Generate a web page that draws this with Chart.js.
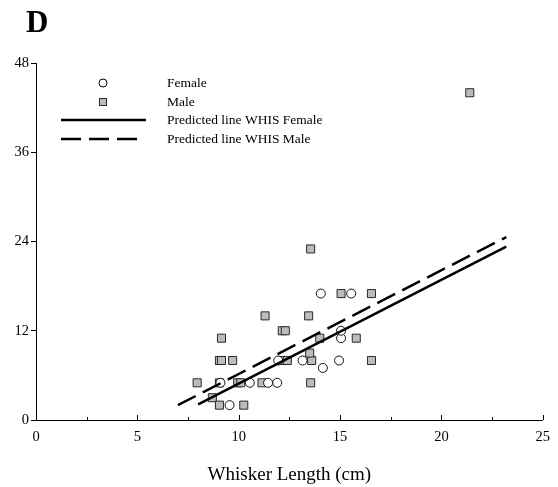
<!DOCTYPE html>
<html>
<head>
<meta charset="utf-8">
<script src="https://cdn.jsdelivr.net/npm/chart.js@4/dist/chart.umd.min.js"></script>
<style>
  html, body { margin: 0; padding: 0; background: #fff; }
  #wrap { width: 558px; height: 487px; }
</style>
</head>
<body>
<div id="wrap"><canvas id="graph"></canvas></div>
<script>
// whisker length (cm) vs. response, by sex
const femaleX = [9.1, 9.55, 10.55, 11.45, 11.9, 11.95, 13.15, 14.15, 14.95, 15.05, 15.05, 14.05, 15.55];
const femaleY = [5, 2, 5, 5, 5, 8, 8, 7, 8, 11, 12, 17, 17];

const maleX = [7.95, 8.7, 9.05, 10.25, 9.05, 9.95, 10.1, 11.15, 13.55, 9.05, 9.15, 9.7, 12.15, 12.4,
  13.6, 16.55, 13.5, 9.15, 14.0, 15.8, 12.15, 12.3, 11.3, 13.45, 13.55, 15.05, 16.55, 21.4];
const maleY = [5, 3, 2, 2, 5, 5, 5, 5, 5, 8, 8, 8, 8, 8,
  8, 8, 9, 11, 11, 11, 12, 12, 14, 14, 23, 17, 17, 44];

// predicted lines (end points)
const femaleLineX = [8.0, 23.2];
const femaleLineY = [2.1, 23.3];
const maleLineX = [7.0, 23.2];
const maleLineY = [2.0, 24.6];

const xTicks = [0, 5, 10, 15, 20, 25];
const xMinorTicks = [2.5, 7.5, 12.5, 17.5, 22.5];
const yTicks = [0, 12, 24, 36, 48];

const legendLabels = ['Female', 'Male', 'Predicted line WHIS Female', 'Predicted line WHIS Male'];

const SERIF = '"Liberation Serif", "DejaVu Serif", serif';
const toPoints = (xs, ys) => xs.map((x, i) => ({ x: x, y: ys[i] }));

const SQUARE_FILL = '#bcbcbc';
const SQUARE_EDGE = '#2a2a2a';
const DASH = [20, 8];

// panel letter, inward x ticks, legend
const extras = {
  id: 'extras',
  afterDraw(chart) {
    const c = chart.ctx;
    const xs = chart.scales.x;
    const area = chart.chartArea;
    c.save();

    c.fillStyle = '#000';
    c.font = 'bold 31px ' + SERIF;
    c.textBaseline = 'alphabetic';
    c.fillText('D', 26, 32);

    c.strokeStyle = '#000';
    c.lineWidth = 1;
    c.beginPath();
    xTicks.forEach(v => {
      const px = Math.round(xs.getPixelForValue(v)) + 0.5;
      c.moveTo(px, area.bottom);
      c.lineTo(px, area.bottom - 5);
    });
    xMinorTicks.forEach(v => {
      const px = Math.round(xs.getPixelForValue(v)) + 0.5;
      c.moveTo(px, area.bottom);
      c.lineTo(px, area.bottom - 3);
    });
    c.stroke();

    // legend
    const rowY = [83, 102, 120, 139];
    c.font = '13.5px ' + SERIF;
    c.textBaseline = 'middle';
    legendLabels.forEach((t, i) => c.fillText(t, 167, rowY[i]));

    c.lineWidth = 1;
    c.fillStyle = '#fff';
    c.beginPath();
    c.arc(103, rowY[0], 4, 0, Math.PI * 2);
    c.fill();
    c.stroke();

    c.fillStyle = SQUARE_FILL;
    c.strokeStyle = SQUARE_EDGE;
    c.fillRect(99, rowY[1] - 4, 8, 8);
    c.strokeRect(99.5, rowY[1] - 3.5, 7, 7);

    c.strokeStyle = '#000';
    c.lineWidth = 2.5;
    c.beginPath();
    c.moveTo(61, rowY[2]);
    c.lineTo(146, rowY[2]);
    c.stroke();
    c.setLineDash(DASH);
    c.beginPath();
    c.moveTo(61, rowY[3]);
    c.lineTo(137, rowY[3]);
    c.stroke();

    c.restore();
  }
};

new Chart(document.getElementById('graph'), {
  type: 'scatter',
  data: {
    datasets: [
      {
        label: legendLabels[0],
        data: toPoints(femaleX, femaleY),
        pointStyle: 'circle',
        pointRadius: 4.5,
        pointBackgroundColor: '#fff',
        pointBorderColor: '#111',
        pointBorderWidth: 1,
        order: 1
      },
      {
        label: legendLabels[1],
        data: toPoints(maleX, maleY),
        pointStyle: 'rect',
        pointRadius: 5.7,
        pointBackgroundColor: SQUARE_FILL,
        pointBorderColor: SQUARE_EDGE,
        pointBorderWidth: 1,
        order: 1
      },
      {
        type: 'line',
        label: legendLabels[2],
        data: toPoints(femaleLineX, femaleLineY),
        borderColor: '#000',
        borderWidth: 2.5,
        pointRadius: 0,
        fill: false,
        order: 0
      },
      {
        type: 'line',
        label: legendLabels[3],
        data: toPoints(maleLineX, maleLineY),
        borderColor: '#000',
        borderWidth: 2.5,
        borderDash: DASH,
        pointRadius: 0,
        fill: false,
        order: 0
      }
    ]
  },
  options: {
    responsive: true,
    maintainAspectRatio: false,
    animation: false,
    layout: { padding: { top: 63, right: 8, bottom: 0, left: 0 } },
    plugins: {
      legend: { display: false },
      tooltip: { enabled: false }
    },
    scales: {
      x: {
        type: 'linear',
        min: 0,
        max: 25,
        afterBuildTicks: s => { s.ticks = xTicks.map(v => ({ value: v })); },
        afterFit: s => { s.height = 67; },
        grid: { display: false, drawTicks: false },
        border: { display: true, color: '#000', width: 1 },
        ticks: { color: '#000', padding: 8, maxRotation: 0, font: { family: SERIF, size: 14.5 } },
        title: {
          display: true,
          text: 'Whisker Length (cm)',
          color: '#000',
          padding: { top: 0, bottom: 1 },
          font: { family: SERIF, size: 19 }
        }
      },
      y: {
        type: 'linear',
        min: 0,
        max: 48,
        afterBuildTicks: s => { s.ticks = yTicks.map(v => ({ value: v })); },
        afterFit: s => { s.width = 36; },
        grid: { drawOnChartArea: false, drawTicks: true, tickLength: 5, color: '#000' },
        border: { display: true, color: '#000', width: 1 },
        ticks: { color: '#000', padding: 2, font: { family: SERIF, size: 14.5 } }
      }
    }
  },
  plugins: [extras]
});
</script>
</body>
</html>
